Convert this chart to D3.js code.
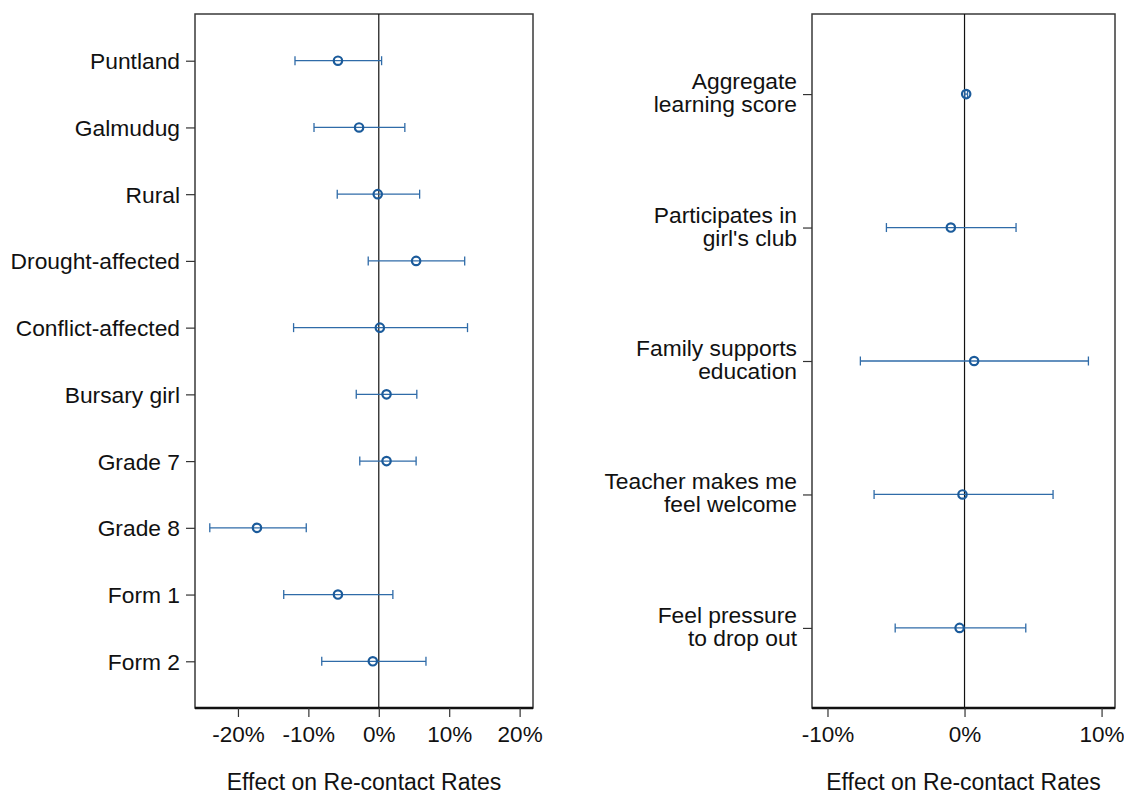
<!DOCTYPE html>
<html lang="en">
<head>
    <meta charset="UTF-8">
    <script src="https://d3js.org/d3.v7.min.js"></script>
    <title>Effect on Re-contact Rates</title>
    <style>
        body { margin: 0; background: #fff; }
        svg { font-family: "Liberation Sans", Arial, sans-serif; }
        .tick text { fill: #111; }
        .axis-title { font-size: 23px; fill: #111; }
    </style>
</head>
<body>
    <div id="chart"></div>

    <script>
        // Panneau de gauche : caractéristiques
        const leftLabels = ["Puntland", "Galmudug", "Rural", "Drought-affected", "Conflict-affected",
                            "Bursary girl", "Grade 7", "Grade 8", "Form 1", "Form 2"];
        const leftEst  = [-5.8, -2.8, -0.15, 5.3, 0.15, 1.1, 1.1, -17.3, -5.8, -0.85];
        const leftLow  = [-11.9, -9.2, -5.9, -1.5, -12.1, -3.2, -2.7, -24.0, -13.5, -8.1];
        const leftHigh = [0.4, 3.7, 5.8, 12.2, 12.6, 5.4, 5.3, -10.3, 2.0, 6.7];
        const leftTicks = [-20, -10, 0, 10, 20];

        // Panneau de droite : attitudes
        const rightLabels = ["Aggregate\nlearning score", "Participates in\ngirl's club",
                             "Family supports\neducation", "Teacher makes me\nfeel welcome",
                             "Feel pressure\nto drop out"];
        const rightEst  = [0.12, -1.0, 0.7, -0.15, -0.36];
        const rightLow  = [0.02, -5.7, -7.6, -6.6, -5.06];
        const rightHigh = [0.22, 3.76, 9.04, 6.46, 4.47];
        const rightTicks = [-10, 0, 10];

        const width = 1124, height = 796;
        const svg = d3.select("#chart").append("svg")
            .attr("width", width)
            .attr("height", height);

        const markColor = "#1b5b9b";
        const lineColor = "#2f6ba8";

        function drawPanel(p) {
            const rows = p.labels.map((label, i) => ({
                label, est: p.est[i], lo: p.low[i], hi: p.high[i], i
            }));

            const x = d3.scaleLinear().domain(p.xDomain).range([p.left, p.right]);
            const y = d3.scaleLinear().domain(p.yDomain).range([p.top, p.bottom]);

            const g = svg.append("g");

            // cadre
            g.append("rect")
                .attr("x", p.left).attr("y", p.top)
                .attr("width", p.right - p.left).attr("height", p.bottom - p.top)
                .attr("fill", "none").attr("stroke", "#3a3a3a").attr("stroke-width", 1.5);

            // ligne zéro
            g.append("line")
                .attr("x1", x(0)).attr("x2", x(0))
                .attr("y1", p.top).attr("y2", p.bottom)
                .attr("stroke", "#111").attr("stroke-width", 1.2);

            // axe x
            const xAxis = g.append("g")
                .attr("transform", `translate(0,${p.bottom})`)
                .call(d3.axisBottom(x).tickValues(p.ticks).tickFormat(d => d + "%")
                    .tickSize(9).tickSizeOuter(0).tickPadding(9));
            xAxis.select(".domain").attr("stroke", "#111").attr("stroke-width", 2.5)
                .attr("d", `M${p.left},0H${p.right}`);
            xAxis.selectAll(".tick line").attr("stroke", "#333").attr("stroke-width", 1.2);
            xAxis.selectAll(".tick text").attr("font-size", 22.5).attr("font-family", null);

            // axe y
            const yAxis = g.append("g")
                .attr("transform", `translate(${p.left},0)`)
                .call(d3.axisLeft(y).tickValues(d3.range(rows.length))
                    .tickFormat(() => "").tickSize(9).tickSizeOuter(0));
            yAxis.select(".domain").remove();
            yAxis.selectAll(".tick line").attr("stroke", "#333").attr("stroke-width", 1.2);
            yAxis.selectAll(".tick text").each(function(d) {
                const parts = p.labels[d].split("\n");
                const t = d3.select(this)
                    .attr("x", -15)
                    .attr("dy", null)
                    .attr("font-size", 22.8)
                    .attr("font-family", null)
                    .attr("text-anchor", "end");
                if (parts.length === 1) {
                    t.text(parts[0]).attr("dy", "0.35em");
                } else {
                    t.text(null);
                    parts.forEach((s, k) => {
                        t.append("tspan").attr("x", -15)
                            .attr("y", k === 0 ? -5.5 : 17.5)
                            .text(s);
                    });
                }
            });

            // intervalles de confiance
            const capH = 4.5;
            const ci = g.selectAll(".ci").data(rows).join("g").attr("class", "ci")
                .attr("stroke", lineColor).attr("stroke-width", 1.3);
            ci.append("line")
                .attr("x1", d => x(d.lo)).attr("x2", d => x(d.hi))
                .attr("y1", d => y(d.i)).attr("y2", d => y(d.i));
            ci.append("line")
                .attr("x1", d => x(d.lo)).attr("x2", d => x(d.lo))
                .attr("y1", d => y(d.i) - capH).attr("y2", d => y(d.i) + capH);
            ci.append("line")
                .attr("x1", d => x(d.hi)).attr("x2", d => x(d.hi))
                .attr("y1", d => y(d.i) - capH).attr("y2", d => y(d.i) + capH);

            // estimations
            g.selectAll(".pt").data(rows).join("circle").attr("class", "pt")
                .attr("cx", d => x(d.est)).attr("cy", d => y(d.i))
                .attr("r", 4.2)
                .attr("fill", "none")
                .attr("stroke", markColor).attr("stroke-width", 2.2);

            // titre de l'axe
            g.append("text").attr("class", "axis-title")
                .attr("x", (p.left + p.right) / 2)
                .attr("y", 790)
                .attr("text-anchor", "middle")
                .text("Effect on Re-contact Rates");
        }

        drawPanel({
            labels: leftLabels, est: leftEst, low: leftLow, high: leftHigh, ticks: leftTicks,
            left: 195, right: 533, top: 14, bottom: 708,
            xDomain: [-26.1, 21.9], yDomain: [-0.7, 9.7]
        });

        drawPanel({
            labels: rightLabels, est: rightEst, low: rightLow, high: rightHigh, ticks: rightTicks,
            left: 812, right: 1115, top: 14, bottom: 708,
            xDomain: [-11.13, 10.98], yDomain: [-0.6, 4.6]
        });
    </script>
</body>
</html>
